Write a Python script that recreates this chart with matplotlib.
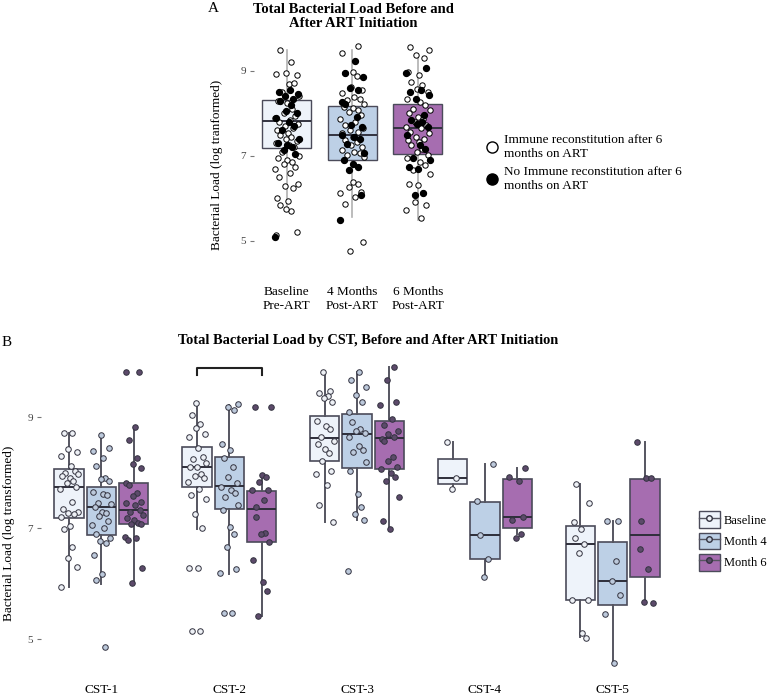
import numpy as np
import matplotlib
matplotlib.use('Agg')
import matplotlib.pyplot as plt
from matplotlib.lines import Line2D
from matplotlib.patches import Patch

plt.rcParams['font.family'] = ['Liberation Serif', 'DejaVu Serif']

# ------------------------------ panel A data ------------------------------
A_LABELS = ['Baseline\nPre-ART', '4 Months\nPost-ART', '6 Months\nPost-ART']
A_MED = [7.82, 7.49, 7.66]
A_Q1 = [7.19, 6.90, 7.05]
A_Q3 = [8.32, 8.18, 8.22]
A_LO = [5.75, 5.56, 5.49]
A_HI = [9.49, 9.49, 9.38]

A_OPEN = [
    [9.5, 9.2, 8.95, 8.9, 8.92, 8.7, 8.72, 8.5, 8.4, 8.3, 8.25, 8.1, 8.0, 7.95,
     7.9, 7.85, 7.8, 7.75, 7.7, 7.65, 7.6, 7.55, 7.5, 7.45, 7.4, 7.35, 7.3,
     7.25, 7.2, 7.1, 7.0, 6.95, 6.9, 6.85, 6.8, 6.75, 6.7, 6.6, 6.5, 6.35,
     6.3, 6.25, 6.0, 5.95, 5.85, 5.7, 5.75, 5.2, 5.15],
    [9.59, 9.42, 8.98, 8.94, 8.88, 8.63, 8.55, 8.47, 8.39, 8.35, 8.31, 8.23,
     8.16, 8.12, 8.08, 8.04, 7.96, 7.88, 7.8, 7.72, 7.65, 7.61, 7.57, 7.53,
     7.45, 7.37, 7.33, 7.25, 7.21, 7.13, 7.09, 7.06, 7.02, 6.98, 6.9, 6.39,
     6.33, 6.27, 6.15, 6.12, 6.04, 5.88, 4.98, 4.77],
    [9.57, 9.49, 9.37, 9.3, 8.98, 8.9, 8.74, 8.66, 8.58, 8.5, 8.35, 8.27, 8.19,
     8.11, 8.07, 8.0, 7.92, 7.88, 7.8, 7.72, 7.68, 7.65, 7.57, 7.53, 7.45,
     7.41, 7.37, 7.33, 7.25, 7.17, 7.1, 7.02, 6.94, 6.86, 6.78, 6.66, 6.58,
     6.35, 6.31, 6.12, 5.92, 5.84, 5.72, 5.53],
]
A_FILLED = [
    [8.55, 8.5, 8.45, 8.4, 8.35, 8.3, 8.2, 8.05, 8.0, 7.9, 7.8, 7.7, 7.6, 7.4,
     7.3, 7.25, 7.2, 7.15, 7.05, 5.1],
    [9.24, 8.94, 8.86, 8.59, 8.55, 8.27, 8.23, 7.92, 7.72, 7.68, 7.49, 7.45,
     7.41, 7.29, 7.06, 6.9, 6.82, 6.74, 6.66, 6.08, 5.49],
    [9.06, 8.94, 8.55, 8.51, 8.43, 8.35, 7.96, 7.84, 7.8, 7.76, 7.68, 7.49,
     7.25, 7.17, 6.94, 6.9, 6.74, 6.7, 6.12, 6.08],
]

# ------------------------------ panel B data ------------------------------
CST = ['CST-1', 'CST-2', 'CST-3', 'CST-4', 'CST-5']
VISITS = ['Baseline', 'Month 4', 'Month 6']

B_MED = [[7.74, 7.39, 7.32], [8.11, 7.76, 7.35], [8.63, 8.69, 8.63],
         [7.91, 6.87, 7.20], [6.71, 6.05, 6.87]]
B_Q1 = [[7.19, 6.87, 7.08], [7.74, 7.35, 6.76], [8.21, 8.08, 8.07],
        [7.80, 6.44, 7.01], [5.70, 5.62, 6.13]]
B_Q3 = [[8.06, 7.74, 7.82], [8.47, 8.29, 7.68], [9.02, 9.05, 8.93],
        [8.24, 7.48, 7.88], [7.04, 6.76, 7.89]]
B_LO = [[5.95, 6.00, 5.99], [6.99, 6.18, 5.41], [7.11, 7.14, 7.00],
        [7.71, 6.12, 6.89], [5.04, 4.58, 5.67]]
B_HI = [[8.72, 8.68, 8.83], [9.25, 9.22, 7.97], [9.82, 9.82, 9.91],
        [8.56, 8.16, 8.09], [7.80, 7.13, 8.56]]

B_PTS = [
    [[8.72, 8.72, 8.42, 8.37, 8.30, 8.12, 8.04, 8.0, 7.98, 7.95, 7.9, 7.85,
      7.82, 7.74, 7.7, 7.47, 7.34, 7.3, 7.28, 7.25, 7.2, 7.04, 6.98, 6.66,
      6.46, 6.3, 5.94],
     [8.68, 8.44, 8.4, 8.26, 8.12, 7.9, 7.88, 7.85, 7.65, 7.62, 7.6, 7.45,
      7.44, 7.38, 7.3, 7.27, 7.22, 7.13, 7.06, 7.0, 6.9, 6.82, 6.77, 6.73,
      6.51, 6.17, 6.06, 4.86],
     [9.81, 9.81, 8.82, 8.59, 8.26, 8.15, 8.08, 7.82, 7.78, 7.63, 7.58, 7.48,
      7.45, 7.42, 7.33, 7.3, 7.23, 7.18, 7.15, 7.09, 7.08, 7.07, 6.85, 6.82,
      6.78, 6.28, 6.01]],
    [[9.26, 9.04, 8.87, 8.80, 8.70, 8.64, 8.45, 8.28, 8.24, 8.17, 8.11, 8.1,
      7.98, 7.94, 7.91, 7.84, 7.7, 7.6, 7.53, 7.26, 7.01, 6.28, 6.28, 5.14,
      5.14],
     [9.23, 9.19, 9.13, 8.52, 8.41, 8.26, 8.11, 7.93, 7.81, 7.75, 7.69, 7.63,
      7.57, 7.42, 7.33, 7.02, 6.9, 6.66, 6.26, 6.2, 5.47, 5.47],
     [9.18, 9.18, 7.96, 7.93, 7.83, 7.69, 7.69, 7.51, 7.38, 7.2, 6.92, 6.89,
      6.75, 6.42, 6.04, 5.87, 5.42]],
    [[9.81, 9.47, 9.44, 9.38, 9.35, 9.28, 8.93, 8.85, 8.79, 8.64, 8.58, 8.52,
      8.43, 8.35, 8.22, 8.04, 7.97, 7.78, 7.41, 7.11],
     [9.81, 9.68, 9.54, 9.4, 9.27, 9.09, 8.91, 8.79, 8.76, 8.71, 8.65, 8.49,
      8.41, 8.37, 8.19, 8.03, 7.61, 7.38, 7.26, 7.15, 6.23],
     [9.91, 9.67, 9.27, 9.22, 8.97, 8.86, 8.76, 8.7, 8.65, 8.6, 8.57, 8.28,
      8.22, 8.1, 8.07, 7.99, 7.92, 7.85, 7.56, 7.13, 6.99]],
    [[8.56, 7.91, 7.70],
     [8.16, 7.49, 6.87, 6.44, 6.12],
     [8.09, 7.92, 7.86, 7.2, 7.14, 6.89, 6.82]],
    [[7.8, 7.46, 7.11, 6.99, 6.83, 6.71, 6.56, 5.70, 5.70, 5.11, 5.02],
     [7.13, 7.13, 6.41, 6.05, 5.79, 5.46, 4.57],
     [8.56, 7.91, 7.91, 7.13, 6.62, 6.27, 5.68, 5.65]],
]

# ------------------------------ styling ------------------------------
BOX_FILL = ['#EEF3FA', '#BDD0E6', '#A66DB0']
PT_FILL = ['#EEF1F6', '#BCC9DB', '#5C4A6A']
EDGE = '#4B4B5A'
JIT = [-0.55, 0.35, -0.1, 0.8, -0.85, 0.15, 0.6, -0.4, 0.95, -0.7, 0.05,
       0.45, -0.25, 0.7, -0.95, 0.25, -0.6, 0.9, -0.15, 0.5, -0.8, 0.1]


def jitter(n, scale, shift=0):
    return scale * np.roll(np.resize(JIT, n), shift)


def stats(med, q1, q3, lo, hi):
    return {'med': med, 'q1': q1, 'q3': q3, 'whislo': lo, 'whishi': hi,
            'fliers': []}


fig = plt.figure(figsize=(7.7, 6.95), dpi=100)

# ------------------------------ panel A ------------------------------
axA = fig.add_axes([254 / 770, 1 - 258 / 695, 196.5 / 770, 219 / 695])
for i in range(3):
    axA.plot([i, i], [A_LO[i], A_HI[i]], color='#B0B0B0', lw=1.2, zorder=1)
    axA.bxp([stats(A_MED[i], A_Q1[i], A_Q3[i], A_Q3[i], A_Q3[i])],
            positions=[i], widths=0.75, patch_artist=True, showcaps=False,
            showfliers=False,
            boxprops=dict(facecolor=BOX_FILL[i], edgecolor=EDGE, lw=1.0),
            medianprops=dict(color='#333340', lw=1.4),
            whiskerprops=dict(lw=0))
    op = np.array(A_OPEN[i])
    fp = np.array(A_FILLED[i])
    axA.scatter(i + jitter(len(op), 0.19, 3 * i), op, s=15, facecolor='white',
                edgecolor='black', lw=0.7, zorder=3)
    axA.scatter(i + jitter(len(fp), 0.19, 5 + i), fp, s=18, color='black',
                zorder=4)

axA.set_xlim(-0.5, 2.5)
axA.set_ylim(4.6, 9.75)
axA.set_yticks([5, 7, 9])
axA.set_xticks(range(3))
axA.set_xticklabels(A_LABELS, fontsize=9.5, linespacing=1.25)
axA.tick_params(axis='x', length=0, pad=20)
axA.tick_params(axis='y', length=3, color='#777777', labelsize=8,
                labelcolor='#444444', pad=3)
for s in axA.spines.values():
    s.set_visible(False)
axA.set_ylabel('Bacterial Load (log tranformed)', fontsize=9.5)
axA.yaxis.set_label_coords(-0.158, 0.425)

fig.text(353 / 770, 1 - 3 / 695,
         'Total Bacterial Load Before and\nAfter ART Initiation',
         ha='center', va='top', fontsize=10.5, fontweight='bold',
         linespacing=1.1)
fig.text(213 / 770, 1 - 9 / 695, 'A', ha='center', va='center', fontsize=11)

hA = [Line2D([], [], ls='none', marker='o', ms=8, mfc='white', mec='black',
             mew=1.0),
      Line2D([], [], ls='none', marker='o', ms=8, color='black')]
fig.legend(hA, ['Immune reconstitution after 6\nmonths on ART',
                'No Immune reconstitution after 6\nmonths on ART'],
           loc='upper left', bbox_to_anchor=(474 / 770, 1 - 122 / 695),
           frameon=False, fontsize=9.5, handlelength=1.0, handletextpad=0.4,
           labelspacing=0.5)

# ------------------------------ panel B ------------------------------
axB = fig.add_axes([41.4 / 770, 1 - 667 / 695, 639 / 770, 310.8 / 695])
dodge = 0.253
for g in range(len(CST)):
    for v in range(3):
        x = g + (v - 1) * dodge
        axB.bxp([stats(B_MED[g][v], B_Q1[g][v], B_Q3[g][v], B_LO[g][v],
                       B_HI[g][v])],
                positions=[x], widths=0.23, patch_artist=True,
                showcaps=False, showfliers=False,
                boxprops=dict(facecolor=BOX_FILL[v], edgecolor=EDGE, lw=1.2),
                medianprops=dict(color='#2E2E3A', lw=1.4),
                whiskerprops=dict(color='#555560', lw=1.4))
        pts = np.array(B_PTS[g][v])
        axB.scatter(x + jitter(len(pts), 0.075, g + 4 * v), pts, s=16,
                    facecolor=PT_FILL[v], edgecolor='#333340', lw=0.7,
                    zorder=3)

# significance bracket over CST-2 baseline vs month 6
axB.plot([1 - dodge, 1 - dodge, 1 + dodge, 1 + dodge],
         [9.76, 9.88, 9.88, 9.76], color='#222222', lw=1.5)

axB.set_xlim(-0.47, 4.53)
axB.set_ylim(4.5, 10.1)
axB.set_yticks([5, 7, 9])
axB.set_xticks(range(len(CST)))
axB.set_xticklabels(CST, fontsize=9.5)
axB.tick_params(axis='x', length=0, pad=12)
axB.tick_params(axis='y', length=3, color='#777777', labelsize=8,
                labelcolor='#444444', pad=3)
for s in axB.spines.values():
    s.set_visible(False)
axB.set_ylabel('Bacterial Load (log transformed)', fontsize=9.5)
axB.yaxis.set_label_coords(-0.041, 0.43)

fig.text(368 / 770, 1 - 340 / 695,
         'Total Bacterial Load by CST, Before and After ART Initiation',
         ha='center', va='center', fontsize=10.4, fontweight='bold')
fig.text(7 / 770, 1 - 342 / 695, 'B', ha='center', va='center', fontsize=11)

hB = [(Patch(facecolor=BOX_FILL[v], edgecolor=EDGE, lw=1.0),
       Line2D([], [], color='#555560', lw=1.0, marker='o', ms=4,
              mfc=PT_FILL[v], mec='#333340'))
      for v in range(3)]
fig.legend(hB, VISITS, loc='center left',
           bbox_to_anchor=(691 / 770, 1 - 541 / 695), frameon=False,
           fontsize=9, handlelength=1.7, handleheight=1.7,
           handletextpad=0.35, labelspacing=0.35, borderaxespad=0.2)

fig.savefig('out.png', dpi=100, facecolor='white')
